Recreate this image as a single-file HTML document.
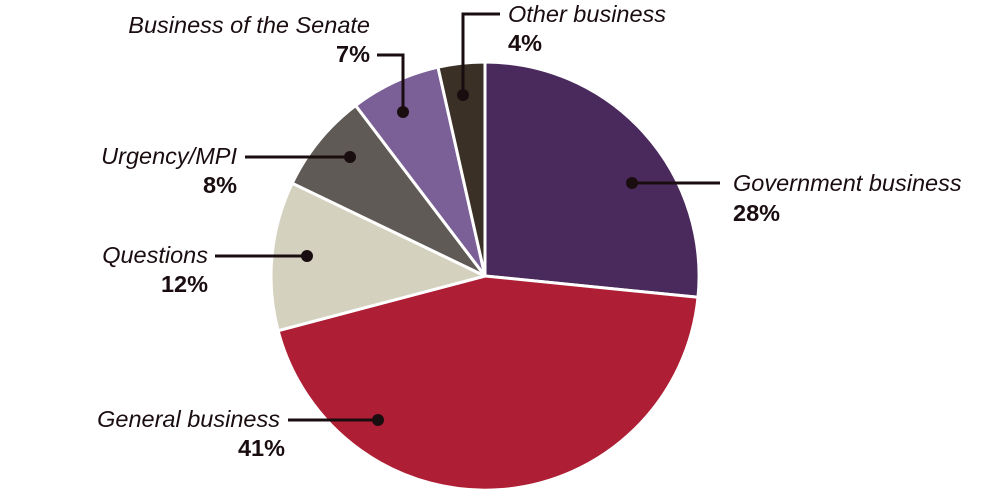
<!DOCTYPE html>
<html><head><meta charset="utf-8"><style>
html,body{margin:0;padding:0;background:#fff;width:1000px;height:496px;overflow:hidden}
text{font-family:"Liberation Sans",sans-serif;fill:#1a0d10}
.l{font-style:italic;font-size:23.5px}
.p{font-weight:bold;font-size:23.5px}
</style></head><body>
<svg width="1000" height="496" viewBox="0 0 1000 496" xmlns="http://www.w3.org/2000/svg">
<g stroke="#fff" stroke-width="3" stroke-linejoin="round">
<path d="M485,276 L485,62 A214,214 0 0,1 698,297.3 Z" fill="#4a2a5c"/>
<path d="M485,276 L698,297.3 A214,214 0 0,1 278.1,330.7 Z" fill="#ae1f35"/>
<path d="M485,276 L278.1,330.7 A214,214 0 0,1 292.2,183.2 Z" fill="#d4d2bf"/>
<path d="M485,276 L292.2,183.2 A214,214 0 0,1 355.6,105.5 Z" fill="#5f5a55"/>
<path d="M485,276 L355.6,105.5 A214,214 0 0,1 438,67.2 Z" fill="#7a6096"/>
<path d="M485,276 L438,67.2 A214,214 0 0,1 485,62 Z" fill="#3a3025"/>
</g>
<g stroke="#1a0d10" stroke-width="3" fill="none">
<path d="M632,183 H720"/>
<path d="M288,420 H378"/>
<path d="M215,256 H307"/>
<path d="M245,157 H350"/>
<path d="M377,55 H403 V112"/>
<path d="M463,95 V14 H500"/>
</g>
<g fill="#1a0d10">
<circle cx="632" cy="183" r="6"/><circle cx="378" cy="420" r="6"/>
<circle cx="307" cy="256" r="6"/><circle cx="350" cy="157" r="6"/>
<circle cx="403" cy="112" r="6"/><circle cx="463" cy="95" r="6"/>
</g>
<text class="l" x="733" y="191">Government business</text>
<text class="p" x="733" y="221">28%</text>
<text class="l" x="280" y="427" text-anchor="end">General business</text>
<text class="p" x="285" y="456" text-anchor="end">41%</text>
<text class="l" x="208" y="263" text-anchor="end">Questions</text>
<text class="p" x="208" y="292" text-anchor="end">12%</text>
<text class="l" x="237" y="164" text-anchor="end">Urgency/MPI</text>
<text class="p" x="237" y="193" text-anchor="end">8%</text>
<text class="l" x="370" y="33" text-anchor="end">Business of the Senate</text>
<text class="p" x="370" y="62" text-anchor="end">7%</text>
<text class="l" x="508" y="22">Other business</text>
<text class="p" x="508" y="51">4%</text>
</svg>
</body></html>
